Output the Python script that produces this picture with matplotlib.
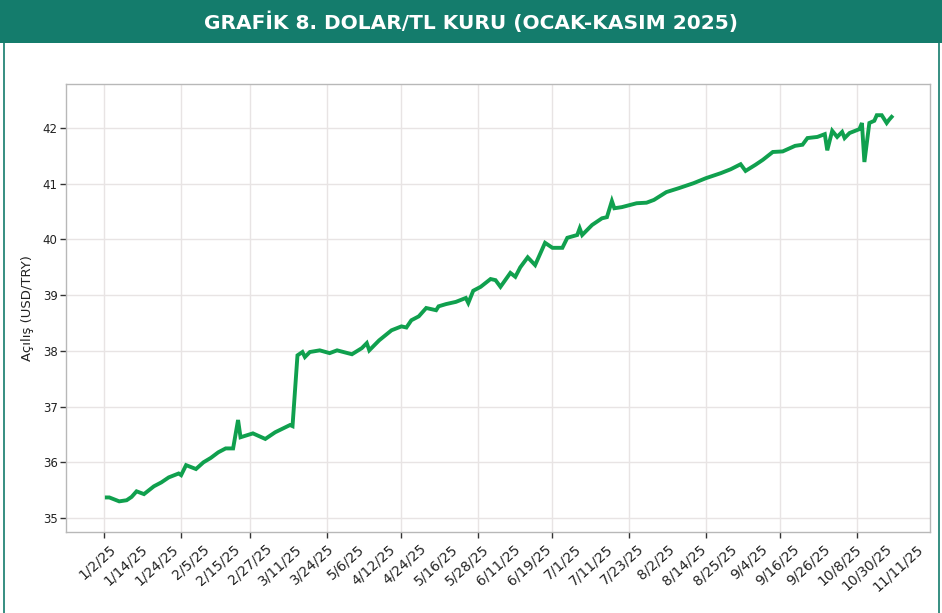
import matplotlib
matplotlib.use("Agg")
import matplotlib.pyplot as plt
import matplotlib.dates as mdates
import numpy as np
import pandas as pd

# ---- data ----
dates = ["2025-01-02", "2025-01-03", "2025-01-07", "2025-01-10", "2025-01-12", "2025-01-14",
         "2025-01-17", "2025-01-21", "2025-01-24", "2025-01-27", "2025-01-31", "2025-02-01",
         "2025-02-03", "2025-02-07", "2025-02-10", "2025-02-13", "2025-02-16", "2025-02-19",
         "2025-02-22", "2025-02-24", "2025-02-25", "2025-03-02", "2025-03-07", "2025-03-11",
         "2025-03-17", "2025-03-18", "2025-03-20", "2025-03-22", "2025-03-23", "2025-03-25",
         "2025-03-29", "2025-04-02", "2025-04-05", "2025-04-11", "2025-04-15", "2025-04-17",
         "2025-04-18", "2025-04-22", "2025-04-27", "2025-05-01", "2025-05-03", "2025-05-05",
         "2025-05-08", "2025-05-11", "2025-05-15", "2025-05-16", "2025-05-19", "2025-05-23",
         "2025-05-27", "2025-05-28", "2025-05-30", "2025-06-02", "2025-06-06", "2025-06-08",
         "2025-06-10", "2025-06-14", "2025-06-16", "2025-06-18", "2025-06-21", "2025-06-24",
         "2025-06-28", "2025-07-01", "2025-07-05", "2025-07-07", "2025-07-11", "2025-07-12",
         "2025-07-13", "2025-07-17", "2025-07-21", "2025-07-23", "2025-07-25", "2025-07-26",
         "2025-07-29", "2025-08-04", "2025-08-08", "2025-08-11", "2025-08-16", "2025-08-21",
         "2025-08-27", "2025-09-01", "2025-09-07", "2025-09-11", "2025-09-15", "2025-09-17",
         "2025-09-21", "2025-09-24", "2025-09-28", "2025-10-02", "2025-10-07", "2025-10-10",
         "2025-10-12", "2025-10-16", "2025-10-19", "2025-10-20", "2025-10-22", "2025-10-24",
         "2025-10-26", "2025-10-27", "2025-10-29", "2025-11-02", "2025-11-03", "2025-11-04",
         "2025-11-06", "2025-11-08", "2025-11-09", "2025-11-11", "2025-11-13", "2025-11-14",
         "2025-11-15"]
values = [35.37, 35.37, 35.30, 35.32, 35.38, 35.48,
          35.43, 35.57, 35.64, 35.73, 35.80, 35.77,
          35.95, 35.88, 36.00, 36.08, 36.18, 36.25,
          36.25, 36.76, 36.45, 36.52, 36.42, 36.54,
          36.67, 36.65, 37.92, 37.98, 37.89, 37.98,
          38.01, 37.96, 38.01, 37.94, 38.05, 38.14,
          38.01, 38.19, 38.37, 38.44, 38.42, 38.55,
          38.62, 38.77, 38.73, 38.80, 38.84, 38.88,
          38.95, 38.86, 39.08, 39.15, 39.29, 39.27,
          39.15, 39.40, 39.33, 39.50, 39.68, 39.54,
          39.94, 39.85, 39.85, 40.03, 40.08, 40.20,
          40.08, 40.26, 40.38, 40.40, 40.69, 40.56,
          40.58, 40.65, 40.66, 40.71, 40.85, 40.92,
          41.01, 41.10, 41.19, 41.26, 41.35, 41.23,
          41.34, 41.43, 41.57, 41.58, 41.68, 41.70,
          41.82, 41.84, 41.89, 41.60, 41.95, 41.84,
          41.93, 41.82, 41.91, 41.98, 42.09, 41.39,
          42.09, 42.13, 42.23, 42.23, 42.09, 42.15,
          42.20]
tick_labels = ["1/2/25", "1/14/25", "1/24/25", "2/5/25", "2/15/25", "2/27/25", "3/11/25",
               "3/24/25", "5/6/25", "4/12/25", "4/24/25", "5/16/25", "5/28/25", "6/11/25",
               "6/19/25", "7/1/25", "7/11/25", "7/23/25", "8/2/25", "8/14/25", "8/25/25",
               "9/4/25", "9/16/25", "9/26/25", "10/8/25", "10/30/25", "11/11/25"]
y_ticks = [35, 36, 37, 38, 39, 40, 41, 42]
title = "GRAFİK 8. DOLAR/TL KURU (OCAK-KASIM 2025)"
ylabel = "Açılış (USD/TRY)"

x = pd.to_datetime(dates)

TEAL = "#147c6c"
GREEN = "#10a04e"

fig = plt.figure(figsize=(9.42, 6.13), dpi=100)
fig.patch.set_facecolor("white")

# header band
fig.patches.append(plt.Rectangle((0, 1 - 43 / 613), 1, 43 / 613, transform=fig.transFigure,
                                 facecolor=TEAL, edgecolor="none", zorder=0))
fig.text(0.5, 1 - 22 / 613, title, ha="center", va="center", color="white",
         fontsize=14.5, fontweight="bold", family=["DejaVu Sans"])
# frame lines
fig.lines.append(plt.Line2D([3.5 / 942, 3.5 / 942], [0, 1 - 43 / 613], transform=fig.transFigure,
                            color=TEAL, lw=1.2))
fig.lines.append(plt.Line2D([939 / 942, 939 / 942], [0, 1 - 43 / 613], transform=fig.transFigure,
                            color=TEAL, lw=1.2))

ax = fig.add_axes([66 / 942, 1 - 532 / 613, (930 - 66) / 942, (532 - 84) / 613])
ax.plot(x, values, color=GREEN, lw=2.8, solid_joinstyle="miter", zorder=3)

ax.set_xlim(pd.Timestamp("2024-12-16 12:00"), pd.Timestamp("2025-11-30 12:00"))
ax.set_ylim(34.75, 42.79)
ax.set_yticks(y_ticks)
ax.set_yticklabels([str(v) for v in y_ticks], fontsize=8.5, color="#222222")
ax.set_ylabel(ylabel, fontsize=9.5, color="#222222", labelpad=6)

# monthly major ticks (gridlines), labels on evenly spaced minor positions
ax.xaxis.set_major_locator(mdates.MonthLocator())
ax.xaxis.set_major_formatter(plt.NullFormatter())
lab_pos = np.linspace(mdates.date2num(pd.Timestamp("2025-01-03")),
                      mdates.date2num(pd.Timestamp("2025-11-25")), len(tick_labels))
ax.set_xticks(lab_pos, minor=True)
ax.set_xticklabels(tick_labels, minor=True, rotation=42, ha="right",
                   rotation_mode="anchor", fontsize=10, color="#222222")
ax.tick_params(axis="x", which="minor", length=0, pad=7)
ax.tick_params(axis="x", which="major", length=4, width=1, color="#333333")
ax.tick_params(axis="y", length=4, width=1, color="#333333", pad=2)

ax.grid(True, which="major", color="#e8e4e4", lw=1.0)
ax.set_axisbelow(True)
for s in ax.spines.values():
    s.set_color("#b8b8b8")
    s.set_linewidth(1.0)

fig.savefig("out.png", dpi=100)
